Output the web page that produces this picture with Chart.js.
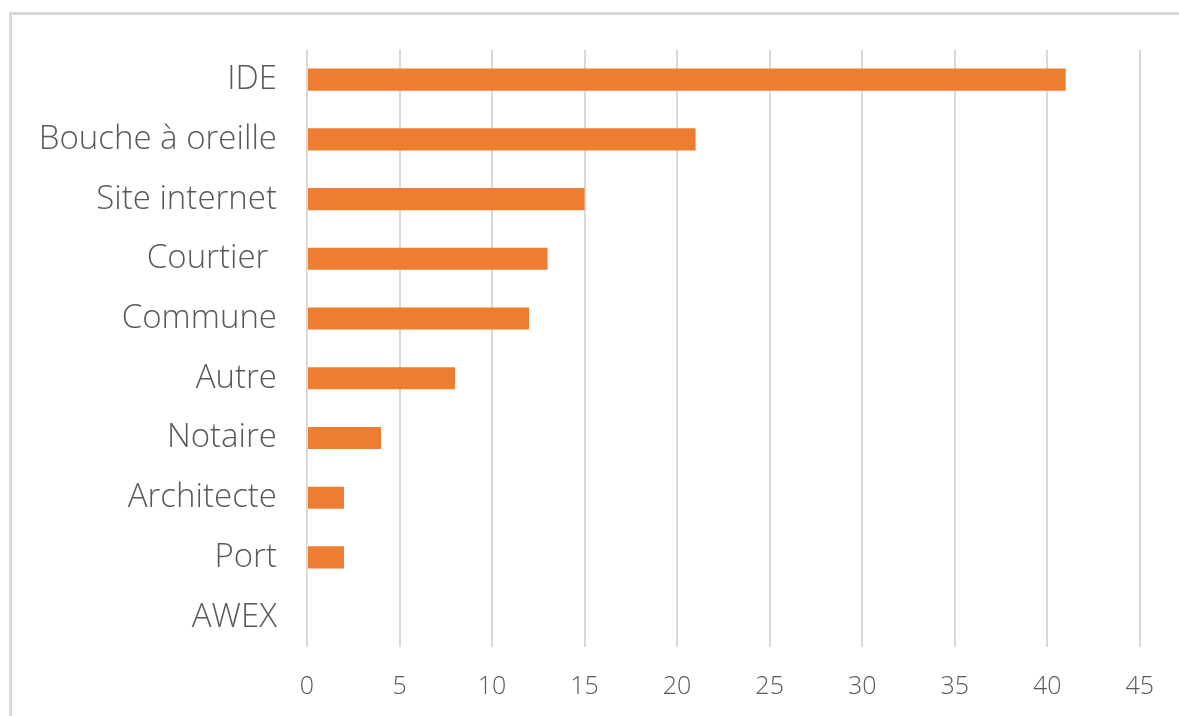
<!DOCTYPE html>
<html lang="fr">
<head>
<meta charset="utf-8">
<script src="https://cdn.jsdelivr.net/npm/chart.js@4"></script>
<style>
  html, body { margin: 0; padding: 0; background: #fff; overflow: hidden; }
  .frame {
    position: absolute; left: 9px; top: 12px; width: 1200px; height: 720px;
    border-top: 3px solid #d9d9d9; border-left: 3px solid #d9d9d9;
  }
  .wrap { position: absolute; left: 0; top: 0; width: 1179px; height: 716px; }
</style>
</head>
<body>
<div class="frame"></div>
<div class="wrap"><canvas id="chart"></canvas></div>
<script>
// Origine des contacts
const categories = ['IDE', 'Bouche à oreille', 'Site internet', 'Courtier ', 'Commune',
                    'Autre', 'Notaire', 'Architecte', 'Port', 'AWEX'];
const counts = [41, 21, 15, 13, 12, 8, 4, 2, 2, 0];
const xTicks = [0, 5, 10, 15, 20, 25, 30, 35, 40, 45];

const FONT = '"Open Sans", Lato, sans-serif';
const TEXT = '#595959';

new Chart(document.getElementById('chart'), {
  type: 'bar',
  data: {
    labels: categories,
    datasets: [{
      data: counts,
      backgroundColor: '#ED7D31',
      borderWidth: 0,
      categoryPercentage: 1,
      barPercentage: 0.37,
    }],
  },
  options: {
    indexAxis: 'y',
    responsive: true,
    maintainAspectRatio: false,
    animation: false,
    layout: { padding: { top: 49, right: 34, left: 0, bottom: 0 } },
    plugins: { legend: { display: false }, tooltip: { enabled: false } },
    scales: {
      x: {
        min: xTicks[0],
        max: xTicks[xTicks.length - 1],
        afterBuildTicks: s => { s.ticks = xTicks.map(v => ({ value: v })); },
        afterFit: s => { s.height = 69; },
        grid: { color: '#d9d9d9', lineWidth: 2, drawTicks: false },
        border: { display: false },
        ticks: { color: TEXT, font: { family: FONT, size: 25, weight: 300 }, padding: 25 },
      },
      y: {
        afterFit: s => { s.width = 307; },
        grid: { display: false, drawTicks: false },
        border: { display: false },
        ticks: { color: TEXT, font: { family: FONT, size: 33, weight: 300 }, padding: 30 },
      },
    },
  },
});
</script>
</body>
</html>
